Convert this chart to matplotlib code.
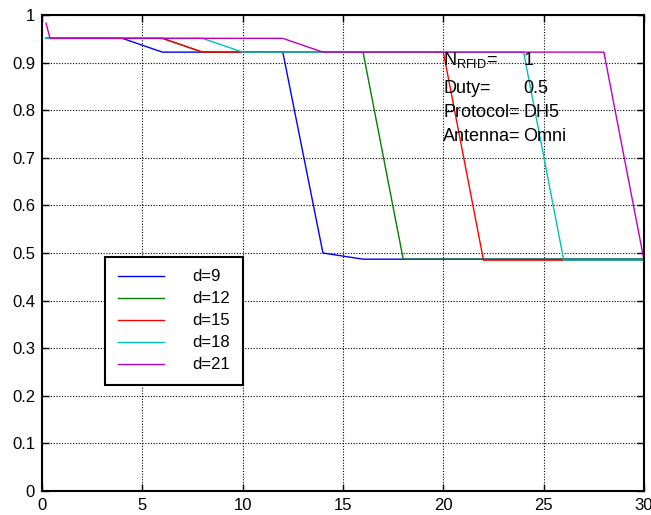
import matplotlib
matplotlib.use("Agg")
import matplotlib.pyplot as plt

plt.rcParams['font.family'] = ['Liberation Sans', 'DejaVu Sans']
plt.rcParams['mathtext.fontset'] = 'custom'
plt.rcParams['mathtext.rm'] = 'Liberation Sans'

# Sample positions along the horizontal axis
x = [0.2, 0.4, 2, 4, 6, 8, 10, 12, 14, 16, 18, 20, 22, 24, 26, 28, 30]

d9 = [0.951, 0.951, 0.951, 0.951, 0.922, 0.922, 0.922, 0.922, 0.500,
      0.487, 0.487, 0.487, 0.487, 0.487, 0.487, 0.487, 0.487]
d12 = [0.951, 0.951, 0.951, 0.951, 0.951, 0.922, 0.922, 0.922, 0.922,
       0.922, 0.487, 0.487, 0.487, 0.487, 0.487, 0.487, 0.487]
d15 = [0.951, 0.951, 0.951, 0.951, 0.951, 0.922, 0.922, 0.922, 0.922,
       0.922, 0.922, 0.922, 0.485, 0.485, 0.485, 0.485, 0.485]
d18 = [0.951, 0.951, 0.951, 0.951, 0.951, 0.951, 0.922, 0.922, 0.922,
       0.922, 0.922, 0.922, 0.922, 0.922, 0.485, 0.485, 0.485]
d21 = [0.983, 0.951, 0.951, 0.951, 0.951, 0.951, 0.951, 0.951, 0.922,
       0.922, 0.922, 0.922, 0.922, 0.922, 0.922, 0.922, 0.485]

series = [("d=9", d9, (0, 0, 1)),
          ("d=12", d12, (0, 0.5, 0)),
          ("d=15", d15, (1, 0, 0)),
          ("d=18", d18, (0, 0.75, 0.75)),
          ("d=21", d21, (0.75, 0, 0.75))]

xticks = [0, 5, 10, 15, 20, 25, 30]
yticks = [0, 0.1, 0.2, 0.3, 0.4, 0.5, 0.6, 0.7, 0.8, 0.9, 1]
ytick_labels = ["0", "0.1", "0.2", "0.3", "0.4", "0.5", "0.6", "0.7", "0.8", "0.9", "1"]

info_keys = ["N$_\\mathregular{RFID}$=", "Duty=", "Protocol=", "Antenna="]
info_vals = ["1", "0.5", "DH5", "Omni"]

fig = plt.figure(figsize=(6.51, 5.15), dpi=100)
ax = fig.add_axes([42 / 651, 24 / 515, 602 / 651, 476 / 515])

for label, y, c in series:
    ax.plot(x, y, color=c, lw=1.0, label=label)

ax.set_xlim(0, 30)
ax.set_ylim(0, 1)
ax.set_xticks(xticks)
ax.set_yticks(yticks)
ax.set_yticklabels(ytick_labels)
ax.grid(True, color='black', linestyle=(0, (1, 1.5)), linewidth=0.8)
ax.tick_params(direction='in', top=True, right=True, length=5, width=1,
               labelsize=12, pad=5)
for s in ax.spines.values():
    s.set_linewidth(1.5)

# Annotation block
y0 = 0.895
step = 0.0505
for i, (k, v) in enumerate(zip(info_keys, info_vals)):
    yy = y0 - (0.059 if i > 0 else 0) - max(0, i - 1) * step
    ax.text(20, yy, k, fontsize=13, va='baseline', ha='left')
    ax.text(24, yy, v, fontsize=13, va='baseline', ha='left')

leg = ax.legend(loc='upper left', bbox_to_anchor=(0.1047, 0.4916),
                fontsize=12, frameon=True, fancybox=False, framealpha=1,
                edgecolor='black', handlelength=2.8, handletextpad=1.7,
                labelspacing=0.42, borderpad=0.75, borderaxespad=0)
leg.get_frame().set_linewidth(1.5)

fig.savefig("out.png", dpi=100)
